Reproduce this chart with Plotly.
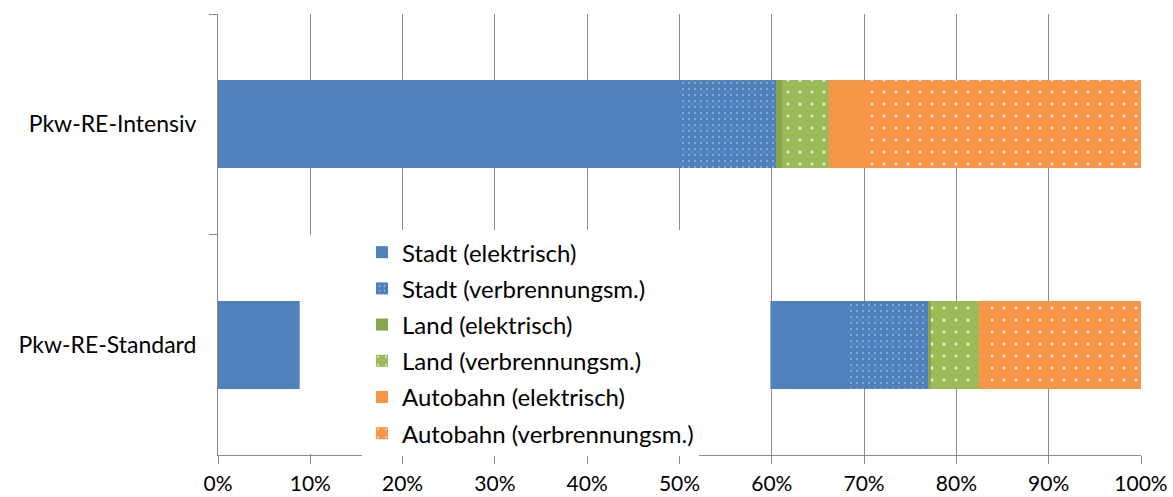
import plotly.graph_objects as go

# Anteile der Fahrleistung je Straßentyp und Antriebsart (in %)
categories = ["Pkw-RE-Intensiv", "Pkw-RE-Standard"]

stadt_elektrisch = [50.2, 68.3]
stadt_verbrennung = [10.3, 8.6]
land_elektrisch = [0.6, 0.4]
land_verbrennung = [5.1, 5.1]
autobahn_elektrisch = [3.9, 1.4]
autobahn_verbrennung = [29.9, 16.2]

series = [
    ("Stadt (elektrisch)", stadt_elektrisch, "#4F81BD", None),
    ("Stadt (verbrennungsm.)", stadt_verbrennung, "#4F81BD", 6),
    ("Land (elektrisch)", land_elektrisch, "#89A54E", None),
    ("Land (verbrennungsm.)", land_verbrennung, "#9BBB59", 12),
    ("Autobahn (elektrisch)", autobahn_elektrisch, "#F79646", None),
    ("Autobahn (verbrennungsm.)", autobahn_verbrennung, "#F79646", 12),
]

FONT = "Lato"

fig = go.Figure()
for i, (name, values, color, dot) in enumerate(series):
    marker = dict(color=color, line=dict(width=0))
    if dot:
        marker["pattern"] = dict(
            shape=".", fillmode="replace", bgcolor=color,
            fgcolor="white", fgopacity=0.75, size=dot, solidity=0.05,
        )
    fig.add_trace(go.Bar(
        name=name, y=categories, x=values, orientation="h",
        marker=marker, legendgroup=f"g{i}",
    ))

fig.update_layout(
    width=1173, height=497,
    margin=dict(l=218, r=32, t=14, b=42),
    barmode="stack", bargap=0.6,
    plot_bgcolor="white", paper_bgcolor="white",
    font=dict(family=FONT, size=22, color="black"),
    showlegend=True,
    legend=dict(
        x=0.156, y=0.51, xanchor="left", yanchor="top",
        bgcolor="white", borderwidth=0,
        traceorder="grouped", tracegroupgap=2,
        font=dict(family=FONT, size=24, color="black"),
    ),
    # Hintergrundfläche der Legende
    shapes=[dict(
        type="rect", xref="paper", yref="paper",
        x0=0.0885, x1=0.5985, y0=0.002, y1=0.499,
        fillcolor="white", line=dict(width=0), layer="above",
    )],
)

fig.update_xaxes(
    range=[0, 100], tickvals=list(range(0, 101, 10)),
    ticktext=[f"{v}%" for v in range(0, 101, 10)],
    tickfont=dict(size=21),
    showgrid=True, gridcolor="#8C8C8C", gridwidth=1,
    showline=True, linecolor="#8C8C8C", linewidth=1,
    ticks="outside", ticklen=8, tickcolor="#8C8C8C",
    ticklabelstandoff=2, automargin=False,
    zeroline=False, fixedrange=True,
)
fig.update_yaxes(
    autorange="reversed", tickson="boundaries",
    tickfont=dict(size=23),
    showgrid=False, showline=True, linecolor="#8C8C8C", linewidth=1,
    ticks="outside", ticklen=8, tickcolor="#8C8C8C",
    ticklabelstandoff=16, automargin=False, fixedrange=True,
)

fig.write_html("out.html")
